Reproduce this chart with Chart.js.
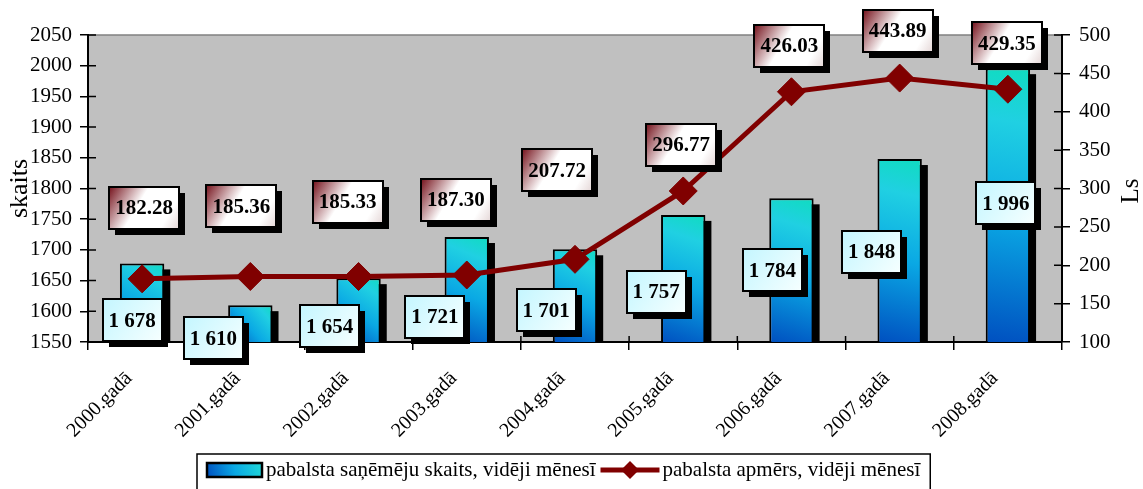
<!DOCTYPE html>
<html>
<head>
<meta charset="utf-8">
<script src="https://cdn.jsdelivr.net/npm/chart.js@4.4.0/dist/chart.umd.min.js"></script>
<style>
html, body { margin: 0; padding: 0; background: #fff; }
#wrap { width: 1143px; height: 489px; }
</style>
</head>
<body>
<div id="wrap"><canvas id="grafiks" width="1143" height="489"></canvas></div>
<script>
var gadi = ['2000.gadā', '2001.gadā', '2002.gadā', '2003.gadā', '2004.gadā', '2005.gadā', '2006.gadā', '2007.gadā', '2008.gadā'];
var sanemejuSkaits = [1678, 1610, 1654, 1721, 1701, 1757, 1784, 1848, 1996];
var pabalstaApmers = [182.28, 185.36, 185.33, 187.30, 207.72, 296.77, 426.03, 443.89, 429.35];
var skaitsAss = { min: 1550, max: 2050, solis: 50 };
var lsAss = { min: 100, max: 500, solis: 50 };

var FONTS = '"Liberation Serif", "Times New Roman", serif';
Chart.defaults.font.family = FONTS;
Chart.defaults.color = '#000';

// uzlīmju novietojums attiecībā pret punktu (px)
var stabuUzlimes = [[-10, 57], [-37, 33], [-29, 48], [-32, 80], [-29, 61], [-27, 77], [-19, 72], [-28, 93], [-2, 135]];
var liknesUzlimes = [[2, -71], [-9, -70], [-11, -75], [-11, -75], [-18, -89], [-2, -46], [-2, -46], [-2, -47], [-1, -46]];

function formatSkaits(v) {
	return String(v).replace(/\B(?=(\d{3})+(?!\d))/g, ' ');
}

function stabaKrasa(c) {
	var ch = c.chart;
	var a = ch.chartArea;
	if (!a || c.type !== 'data') return '#10a8e0';
	var x = ch.scales.x.getPixelForValue(c.dataIndex);
	var yt = ch.scales.y.getPixelForValue(c.raw);
	var g = ch.ctx.createLinearGradient(x - 22, a.bottom, x + 22, yt);
	g.addColorStop(0, '#0050c0');
	g.addColorStop(0.45, '#0aa8e4');
	g.addColorStop(0.8, '#20d0e2');
	g.addColorStop(1, '#10dcc0');
	return g;
}

function zimetUzlimi(ctx, teksts, cx, cy, veids) {
	ctx.font = 'bold 21px ' + FONTS;
	var w = Math.round(ctx.measureText(teksts).width + 12);
	var h = 42;
	var x = Math.round(cx - w / 2);
	var y = Math.round(cy - h / 2);
	ctx.fillStyle = '#000';
	ctx.fillRect(x + 6, y + 6, w, h);
	var g = ctx.createLinearGradient(x, y, x + w, y + h);
	if (veids == 'likne') {
		g.addColorStop(0, '#74101a');
		g.addColorStop(0.42, '#ffffff');
		g.addColorStop(0.8, '#ffffff');
		g.addColorStop(1, '#e4d6d6');
	} else {
		g.addColorStop(0, '#c4f6ff');
		g.addColorStop(1, '#f6ffff');
	}
	ctx.fillStyle = g;
	ctx.fillRect(x, y, w, h);
	ctx.lineWidth = 2;
	ctx.strokeStyle = '#000';
	ctx.strokeRect(x, y, w, h);
	ctx.fillStyle = '#000';
	ctx.textAlign = 'center';
	ctx.textBaseline = 'middle';
	ctx.fillText(teksts, cx, cy + 1);
}

var zimejumsPlugin = {
	id: 'zimejums',
	beforeDraw: function(chart) {
		var a = chart.chartArea, ctx = chart.ctx;
		ctx.save();
		ctx.fillStyle = '#fff';
		ctx.fillRect(0, 0, chart.width, chart.height);
		ctx.fillStyle = '#c0c0c0';
		ctx.fillRect(a.left, a.top, a.right - a.left, a.bottom - a.top);
		ctx.strokeStyle = '#808080';
		ctx.lineWidth = 1.5;
		ctx.beginPath();
		ctx.moveTo(a.left, a.top);
		ctx.lineTo(a.right, a.top);
		ctx.stroke();
		ctx.restore();
	},
	beforeDatasetsDraw: function(chart) {
		var a = chart.chartArea, ctx = chart.ctx;
		var y = chart.scales.y, y1 = chart.scales.y1, x = chart.scales.x;
		ctx.save();
		ctx.strokeStyle = '#000';
		ctx.lineWidth = 1.5;
		ctx.beginPath();
		y.ticks.forEach(function(t, i) {
			var p = y.getPixelForTick(i);
			ctx.moveTo(a.left, p);
			ctx.lineTo(a.left + 8, p);
		});
		y1.ticks.forEach(function(t, i) {
			var p = y1.getPixelForTick(i);
			ctx.moveTo(a.right - 8, p);
			ctx.lineTo(a.right, p);
		});
		var solis = x.getPixelForValue(1) - x.getPixelForValue(0);
		for (var i = 0; i <= gadi.length; i++) {
			var px = x.getPixelForValue(0) - solis / 2 + i * solis;
			ctx.moveTo(px, a.bottom - 6);
			ctx.lineTo(px, a.bottom);
		}
		ctx.stroke();

		// stabu ēnas
		ctx.beginPath();
		ctx.rect(a.left, a.top, a.right - a.left, a.bottom - a.top);
		ctx.clip();
		ctx.fillStyle = '#000';
		chart.getDatasetMeta(1).data.forEach(function(bar) {
			var p = bar.getProps(['x', 'y', 'width', 'base'], true);
			ctx.fillRect(p.x - p.width / 2 + 6, p.y + 6, p.width, p.base - p.y);
		});
		ctx.restore();
	},
	afterDatasetsDraw: function(chart) {
		var ctx = chart.ctx;
		ctx.save();
		chart.getDatasetMeta(1).data.forEach(function(bar, i) {
			zimetUzlimi(ctx, formatSkaits(sanemejuSkaits[i]), bar.x + stabuUzlimes[i][0], bar.y + stabuUzlimes[i][1], 'stabs');
		});
		chart.getDatasetMeta(0).data.forEach(function(pt, i) {
			zimetUzlimi(ctx, pabalstaApmers[i].toFixed(2), pt.x + liknesUzlimes[i][0], pt.y + liknesUzlimes[i][1], 'likne');
		});
		ctx.restore();
	},
	afterDraw: function(chart) {
		var ctx = chart.ctx;
		ctx.save();
		// labās ass nosaukums
		ctx.translate(1131, 191);
		ctx.rotate(-Math.PI / 2);
		ctx.font = '25px ' + FONTS;
		ctx.fillStyle = '#000';
		ctx.textAlign = 'center';
		ctx.textBaseline = 'middle';
		ctx.fillText('Ls', 0, 0);
		ctx.restore();

		// leģenda
		var ds = chart.data.datasets;
		ctx.save();
		ctx.font = '21px ' + FONTS;
		var t1 = ds[1].label, t2 = ds[0].label;
		var w1 = ctx.measureText(t1).width, w2 = ctx.measureText(t2).width;
		var left = 197, top = 454, cy = 470;
		var x = left + 10;
		var g = ctx.createLinearGradient(x, cy + 7, x + 55, cy - 7);
		g.addColorStop(0, '#0050c0');
		g.addColorStop(0.5, '#0aa8e4');
		g.addColorStop(1, '#20d8d8');
		ctx.fillStyle = g;
		ctx.fillRect(x, cy - 7, 55, 14);
		ctx.lineWidth = 2.5;
		ctx.strokeStyle = '#000';
		ctx.strokeRect(x, cy - 7, 55, 14);
		x += 59;
		ctx.fillStyle = '#000';
		ctx.textAlign = 'left';
		ctx.textBaseline = 'middle';
		ctx.fillText(t1, x, cy);
		x += w1 + 5;
		ctx.strokeStyle = '#800000';
		ctx.lineWidth = 5;
		ctx.beginPath();
		ctx.moveTo(x, cy);
		ctx.lineTo(x + 59, cy);
		ctx.stroke();
		ctx.fillStyle = '#800000';
		ctx.beginPath();
		ctx.moveTo(x + 29.5, cy - 9);
		ctx.lineTo(x + 38.5, cy);
		ctx.lineTo(x + 29.5, cy + 9);
		ctx.lineTo(x + 20.5, cy);
		ctx.closePath();
		ctx.fill();
		x += 62;
		ctx.fillStyle = '#000';
		ctx.fillText(t2, x, cy);
		x += w2 + 10;
		ctx.strokeStyle = '#000';
		ctx.lineWidth = 1.5;
		ctx.strokeRect(left, top, x - left, 60);
		ctx.restore();
	}
};

var grafiks = new Chart(document.getElementById('grafiks'), {
	type: 'bar',
	data: {
		labels: gadi,
		datasets: [{
			type: 'line',
			label: 'pabalsta apmērs, vidēji mēnesī',
			data: pabalstaApmers,
			yAxisID: 'y1',
			order: 0,
			borderColor: '#800000',
			borderWidth: 5,
			pointStyle: 'rectRot',
			pointRadius: 14,
			pointBackgroundColor: '#800000',
			pointBorderColor: '#800000',
			pointBorderWidth: 1,
			tension: 0,
			fill: false
		}, {
			type: 'bar',
			label: 'pabalsta saņēmēju skaits, vidēji mēnesī',
			data: sanemejuSkaits,
			yAxisID: 'y',
			order: 1,
			backgroundColor: stabaKrasa,
			borderColor: '#000',
			borderWidth: 2,
			borderSkipped: false,
			barPercentage: 0.41,
			categoryPercentage: 1
		}]
	},
	options: {
		responsive: false,
		animation: false,
		events: [],
		layout: { padding: { top: 35, bottom: 35, left: 0, right: 0 } },
		plugins: {
			legend: { display: false },
			tooltip: { enabled: false }
		},
		scales: {
			x: {
				grid: { offset: true, drawOnChartArea: false, color: '#000', lineWidth: 1.5, tickLength: 8 },
				border: { color: '#000', width: 2 },
				ticks: { font: { size: 20 }, color: '#000', minRotation: 45, maxRotation: 45, padding: 17, labelOffset: -13, autoSkip: false },
				afterFit: function(s) { s.height = 112; }
			},
			y: {
				position: 'left',
				min: skaitsAss.min,
				max: skaitsAss.max,
				ticks: { stepSize: skaitsAss.solis, font: { size: 21 }, color: '#000', padding: 8, callback: function(v) { return String(v); } },
				grid: { drawOnChartArea: false, color: '#000', lineWidth: 1.5, tickLength: 8 },
				border: { color: '#000', width: 2 },
				title: { display: true, text: 'skaits', font: { size: 26 }, color: '#000', padding: { top: 5, bottom: 0 } },
				afterFit: function(s) { s.width = 88; }
			},
			y1: {
				position: 'right',
				min: lsAss.min,
				max: lsAss.max,
				ticks: { stepSize: lsAss.solis, font: { size: 21 }, color: '#000', padding: 9 },
				grid: { drawOnChartArea: false, color: '#000', lineWidth: 1.5, tickLength: 8 },
				border: { color: '#000', width: 2 },
				afterFit: function(s) { s.width = 81; }
			}
		}
	},
	plugins: [zimejumsPlugin]
});
</script>
</body>
</html>
